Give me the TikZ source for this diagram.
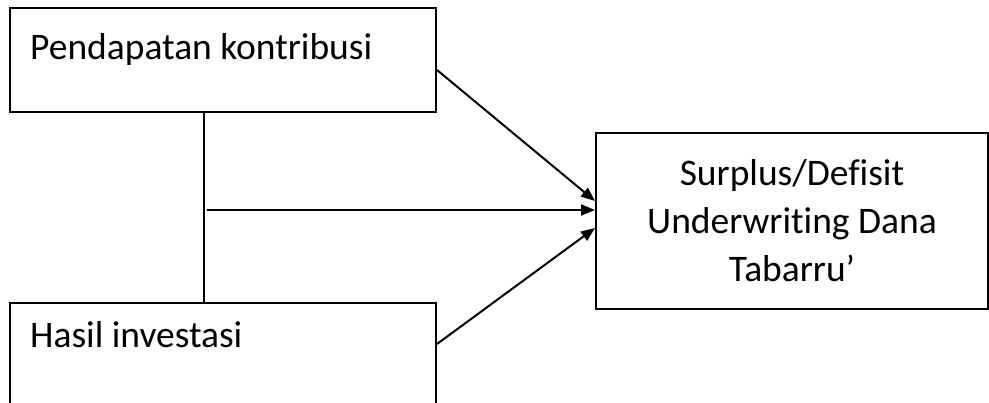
\documentclass[tikz,border=0pt]{standalone}
\usepackage{fontspec}
\setmainfont[Ligatures=NoCommon]{Carlito}
\usetikzlibrary{
    arrows.meta,
    positioning,
    calc
}
\tikzset{
  box/.style  = {draw, line width=2pt, rectangle, inner sep=0pt,
                 anchor=north west},
  lbl/.style  = {font=\fontsize{37.5}{48}\selectfont, inner sep=0pt},
  arr/.style  = {-{Triangle[length=14pt,width=11pt]}, line width=2pt},
  ln/.style   = {line width=2pt}
}

\begin{document}
\begin{tikzpicture}[x=1pt, y=1pt]
    \useasboundingbox (0,0) rectangle (989,403);

    \node[box, minimum width=426pt, minimum height=104pt] (kontribusi) at (9,396) {};
    \node[box, minimum width=426pt, minimum height=104pt] (investasi) at (9,101) {};
    \node[box, minimum width=392pt, minimum height=176pt, lbl, align=center]
      (surplus) at (595,271) {Surplus/Defisit\\Underwriting Dana\\Tabarru’};

    \node[lbl, anchor=base west] (tkontribusi)
      at ([xshift=21pt, yshift=-53pt]kontribusi.north west) {Pendapatan kontribusi};
    \node[lbl, anchor=base west] (tinvestasi)
      at ([xshift=21pt, yshift=-46pt]investasi.north west) {Hasil investasi};

    % joint of the two inputs
    \coordinate (top) at (204,0 |- kontribusi.south);
    \coordinate (mid) at (204,193);
    \coordinate (bot) at (204,0 |- investasi.north);

    \draw[ln] (top) -- (bot);
    \draw[arr] ([xshift=3pt]mid) -- (surplus.west |- mid);
    \draw[arr] ([yshift=-10pt]kontribusi.east) -- ([yshift=20pt]surplus.west);
    \draw[arr] ([yshift=11pt]investasi.east) -- ([yshift=-7pt]surplus.west);
\end{tikzpicture}
\end{document}
